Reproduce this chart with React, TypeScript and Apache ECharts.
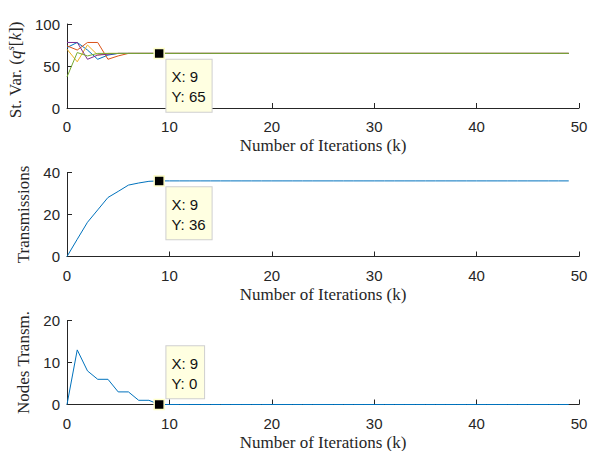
import React, { useEffect, useRef } from "react";
import * as echarts from "echarts";

// ---- data ----
const iterations: number[] = [
  0, 1, 2, 3, 4, 5, 6, 7, 8, 9, 10, 11, 12, 13, 14, 15, 16, 17, 18, 19, 20, 21, 22, 23, 24,
  25, 26, 27, 28, 29, 30, 31, 32, 33, 34, 35, 36, 37, 38, 39, 40, 41, 42, 43, 44, 45, 46, 47, 48, 49,
];

const stVarBlue: number[] = [
  72, 78, 69, 58, 63, 65, 65, 65, 65, 65, 65, 65, 65, 65, 65, 65, 65, 65, 65, 65, 65, 65, 65, 65, 65,
  65, 65, 65, 65, 65, 65, 65, 65, 65, 65, 65, 65, 65, 65, 65, 65, 65, 65, 65, 65, 65, 65, 65, 65, 65,
];
const stVarOrange: number[] = [
  74, 69, 78, 78, 58, 62, 65, 65, 65, 65, 65, 65, 65, 65, 65, 65, 65, 65, 65, 65, 65, 65, 65, 65, 65,
  65, 65, 65, 65, 65, 65, 65, 65, 65, 65, 65, 65, 65, 65, 65, 65, 65, 65, 65, 65, 65, 65, 65, 65, 65,
];
const stVarYellow: number[] = [
  70, 55, 75, 63, 65, 65, 65, 65, 65, 65, 65, 65, 65, 65, 65, 65, 65, 65, 65, 65, 65, 65, 65, 65, 65,
  65, 65, 65, 65, 65, 65, 65, 65, 65, 65, 65, 65, 65, 65, 65, 65, 65, 65, 65, 65, 65, 65, 65, 65, 65,
];
const stVarPurple: number[] = [
  78, 78, 58, 63, 64, 65, 65, 65, 65, 65, 65, 65, 65, 65, 65, 65, 65, 65, 65, 65, 65, 65, 65, 65, 65,
  65, 65, 65, 65, 65, 65, 65, 65, 65, 65, 65, 65, 65, 65, 65, 65, 65, 65, 65, 65, 65, 65, 65, 65, 65,
];
const stVarGreen: number[] = [
  37, 66, 62, 65, 65, 65, 65, 65, 65, 65, 65, 65, 65, 65, 65, 65, 65, 65, 65, 65, 65, 65, 65, 65, 65,
  65, 65, 65, 65, 65, 65, 65, 65, 65, 65, 65, 65, 65, 65, 65, 65, 65, 65, 65, 65, 65, 65, 65, 65, 65,
];

const transmissions: number[] = [
  0, 8.2, 16.3, 22.2, 28.1, 31, 34, 35, 35.8, 36, 36, 36, 36, 36, 36, 36, 36, 36, 36, 36, 36, 36, 36, 36, 36,
  36, 36, 36, 36, 36, 36, 36, 36, 36, 36, 36, 36, 36, 36, 36, 36, 36, 36, 36, 36, 36, 36, 36, 36, 36,
];

const nodesTransm: number[] = [
  0, 13, 8, 6, 6, 3, 3, 1, 1, 0, 0, 0, 0, 0, 0, 0, 0, 0, 0, 0, 0, 0, 0, 0, 0,
  0, 0, 0, 0, 0, 0, 0, 0, 0, 0, 0, 0, 0, 0, 0, 0, 0, 0, 0, 0, 0, 0, 0, 0, 0,
];

const tipK = 9;

const xTicks = { min: 0, max: 50, interval: 10 };
const yTop = { min: 0, max: 100, interval: 50 };
const yMid = { min: 0, max: 40, interval: 20 };
const yBot = { min: 0, max: 20, interval: 10 };

const xName = "Number of Iterations (k)";

export default function App() {
  const ref = useRef<HTMLDivElement>(null);

  useEffect(() => {
    if (!ref.current) return;
    const chart = echarts.init(ref.current, undefined, { renderer: "svg" });

    const axisColor = "#262626";
    const sans = "Liberation Sans";
    const serif = "Liberation Serif";

    const pairs = (arr: number[]) => iterations.map((k, i) => [k, arr[i]]);

    const grids = [
      { left: 67, width: 512, top: 24, height: 84, outerBoundsMode: "none", containLabel: false },
      { left: 67, width: 512, top: 172.5, height: 84, outerBoundsMode: "none", containLabel: false },
      { left: 67, width: 512, top: 320.5, height: 84, outerBoundsMode: "none", containLabel: false },
    ];

    const xAxes = grids.map((_, i) => ({
      type: "value",
      gridIndex: i,
      min: xTicks.min,
      max: xTicks.max,
      interval: xTicks.interval,
      name: xName,
      nameLocation: "middle",
      nameGap: 29,
      nameTextStyle: { fontFamily: serif, fontSize: 17, color: axisColor },
      axisLine: { show: true, onZero: false, lineStyle: { color: axisColor, width: 1 } },
      axisTick: { show: true, inside: true, length: 5, lineStyle: { color: axisColor } },
      axisLabel: { color: axisColor, fontFamily: sans, fontSize: 15, margin: 11 },
      splitLine: { show: false },
    }));

    const yCommon = (i: number, r: { min: number; max: number; interval: number }, name: string, gap: number, extra: any = {}) => ({
      type: "value",
      gridIndex: i,
      min: r.min,
      max: r.max,
      interval: r.interval,
      name,
      nameLocation: "middle",
      nameGap: gap,
      nameRotate: 90,
      nameTextStyle: { fontFamily: serif, fontSize: 17, color: axisColor, ...extra },
      axisLine: { show: true, lineStyle: { color: axisColor, width: 1 } },
      axisTick: { show: true, inside: true, length: 5, lineStyle: { color: axisColor } },
      axisLabel: { color: axisColor, fontFamily: sans, fontSize: 15, margin: 7 },
      splitLine: { show: false },
    });

    const yAxes = [
      yCommon(0, yTop, "St. Var. ({i|q}{s|s}{n|[}{i|k}{n|])}", 38, {
        padding: [0, 8, 0, 0],
        rich: {
          i: { fontFamily: serif, fontSize: 17, fontStyle: "italic", color: axisColor, lineHeight: 22 },
          s: { fontFamily: serif, fontSize: 11, fontStyle: "italic", color: axisColor, verticalAlign: "top", lineHeight: 13 },
          n: { fontFamily: serif, fontSize: 17, color: axisColor, lineHeight: 22 },
        },
      }),
      yCommon(1, yMid, "Transmissions", 30),
      yCommon(2, yBot, "Nodes Transm.", 30),
    ];

    const tipLabel = (text: string, below: boolean) => ({
      show: true,
      formatter: text,
      position: below ? [13, 12] : [13, -0.5],
      align: "left",
      verticalAlign: below ? "top" : "bottom",
      color: "#111111",
      fontFamily: sans,
      fontSize: 15,
      lineHeight: 20,
      backgroundColor: "#FFFFE1",
      borderColor: "#CFCFCF",
      borderWidth: 1,
      padding: [7, 6, 5, 5],
    });

    const tipPoint = (arr: number[], below: boolean) => ({
      symbol: "rect",
      symbolSize: 10,
      silent: true,
      itemStyle: { color: "#000000", borderColor: "#FFFFC8", borderWidth: 1.5 },
      data: [
        {
          coord: [iterations[tipK], arr[tipK]],
          label: tipLabel(`X: ${iterations[tipK]}\nY: ${arr[tipK]}`, below),
        },
      ],
    });

    const line = (arr: number[], color: string, xi: number, extra: any = {}) => ({
      type: "line",
      xAxisIndex: xi,
      yAxisIndex: xi,
      data: pairs(arr),
      showSymbol: false,
      symbol: "none",
      lineStyle: { color, width: 1 },
      itemStyle: { color },
      ...extra,
    });

    const option: any = {
      animation: false,
      backgroundColor: "#ffffff",
      grid: grids,
      xAxis: xAxes,
      yAxis: yAxes,
      series: [
        line(stVarBlue, "#0072BD", 0),
        line(stVarOrange, "#D95319", 0),
        line(stVarYellow, "#EDB120", 0),
        line(stVarPurple, "#7E2F8E", 0),
        line(stVarGreen, "#77AC30", 0, { markPoint: tipPoint(stVarGreen, true) }),
        line(transmissions, "#0072BD", 1, { markPoint: tipPoint(transmissions, true) }),
        line(nodesTransm, "#0072BD", 2, { markPoint: tipPoint(nodesTransm, false) }),
      ],
    };

    chart.setOption(option);
    return () => chart.dispose();
  }, []);

  return (
    <div
      ref={ref}
      style={{ position: "fixed", left: 0, top: 0, width: 590, height: 451, background: "#fff" }}
    />
  );
}
